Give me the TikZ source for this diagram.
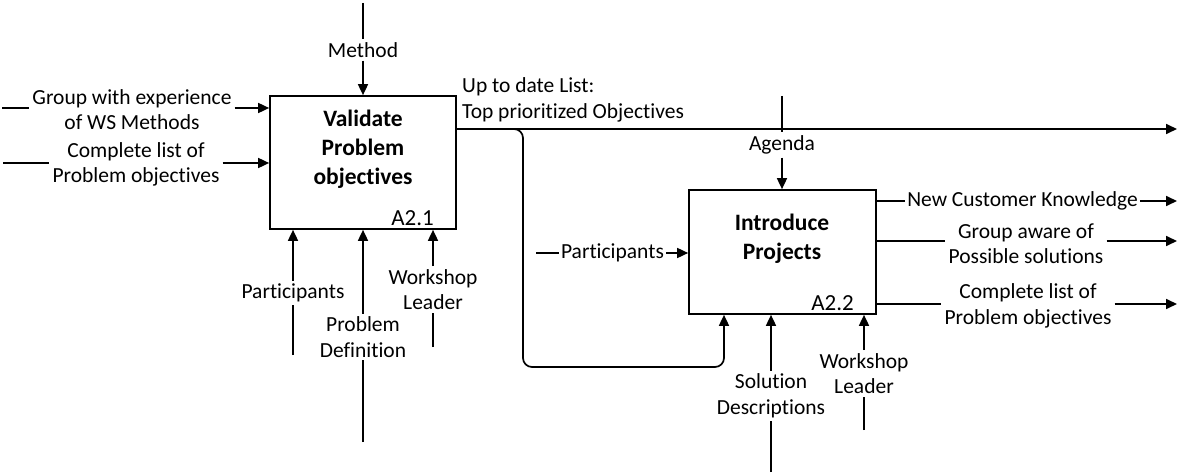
\documentclass[tikz,border=0pt]{standalone}
\usepackage{fontspec}
\setmainfont{Carlito}[Ligatures=NoCommon]
\usetikzlibrary{arrows.meta}
\begin{document}
\begin{tikzpicture}[x=1pt,y=-1pt,
  ln/.style={line width=1.7pt},
  arr/.style={ln,-{Triangle[length=11pt,width=10pt]}},
  box/.style={draw,line width=1.7pt,inner sep=0pt},
  lbl/.style={font=\fontsize{21.5}{25.5}\selectfont,align=center,inner sep=3pt},
  ttl/.style={font=\bfseries\fontsize{23.5}{29}\selectfont,align=center,inner sep=0pt},
  aid/.style={font=\fontsize{23}{28}\selectfont,inner sep=0pt,anchor=east}]
\useasboundingbox (0,0) rectangle (1179,473);

% activity boxes
\node[box,minimum width=186pt,minimum height=133pt] (b1) at (363,162.5) {};
\node[box,minimum width=187pt,minimum height=124pt] (b2) at (782.5,252) {};
\node[ttl] (t1) at (363,149) {Validate\\Problem\\objectives};
\node[aid] (id1) at (434,218) {A2.1};
\node[ttl] (t2) at (782,238.5) {Introduce\\Projects};
\node[aid] (id2) at (854,303) {A2.2};

% A2.1: control from above
\coordinate (m0) at (363,3);
\node[lbl] (mlab) at (363,50) {Method};
\draw[ln] (m0) -- (mlab.north);
\draw[arr] (mlab.south) -- (mlab |- b1.north);

% A2.1: inputs
\coordinate (g0) at (2,108);
\node[lbl] (glab) at (132,109.5) {Group with experience\\of WS Methods};
\draw[ln] (g0) -- (g0 -| glab.west);
\draw[arr] (g0 -| glab.east) -- (g0 -| b1.west);

\coordinate (c0) at (3,163);
\node[lbl] (clab) at (136,164.5) {Complete list of\\Problem objectives};
\draw[ln] (c0) -- (c0 -| clab.west);
\draw[arr] (c0 -| clab.east) -- (c0 -| b1.west);

% A2.1: mechanisms from below
\coordinate (pa0) at (293,355);
\node[lbl] (palab) at (293,293) {Participants};
\draw[ln] (pa0) -- (palab.south);
\draw[arr] (palab.north) -- (palab |- b1.south);

\coordinate (pd0) at (363,442);
\node[lbl] (pdlab) at (363,337) {Problem\\Definition};
\draw[ln] (pd0) -- (pdlab.south);
\draw[arr] (pdlab.north) -- (pdlab |- b1.south);

\coordinate (w0) at (433,347);
\node[lbl] (wlab) at (433,289.5) {Workshop\\Leader};
\draw[ln] (w0) -- (wlab.south);
\draw[arr] (wlab.north) -- (wlab |- b1.south);

% A2.1 output and its branch into A2.2
\coordinate (u1) at (1177,129);
\node[lbl,anchor=west,align=left] (ulab) at (459,100) {Up to date List:\\Top prioritized Objectives};
\draw[arr] (u1 -| b1.east) -- (u1);
\coordinate (lp) at (523,367);
\coordinate (lp2) at (724,367);
\draw[arr,rounded corners=9pt] (u1 -| b1.east) -| (lp) -- (lp2) -- (lp2 |- b2.south);

% A2.2: control from above
\coordinate (a0) at (782,96);
\node[lbl] (alab) at (782,145) {Agenda};
\draw[ln] (a0) -- (alab.north);
\draw[arr] (alab.south) -- (alab |- b2.north);

% A2.2: input
\coordinate (p0) at (536,253);
\node[lbl,inner sep=2pt] (plab) at (612.5,253) {Participants};
\draw[ln] (p0) -- (plab.west);
\draw[arr] (plab.east) -- (plab -| b2.west);

% A2.2: mechanisms from below
\coordinate (s0) at (771,472);
\node[lbl] (slab) at (771,396) {Solution\\Descriptions};
\draw[ln] (s0) -- (slab.south);
\draw[arr] (slab.north) -- (slab |- b2.south);

\coordinate (w20) at (864,430);
\node[lbl] (w2lab) at (864,373.5) {Workshop\\Leader};
\draw[ln] (w20) -- (w2lab.south);
\draw[arr] (w2lab.north) -- (w2lab |- b2.south);

% A2.2: outputs
\coordinate (o1) at (1177,201);
\node[lbl,inner sep=2pt] (o1lab) at (1022.5,201) {New Customer Knowledge};
\draw[ln] (o1 -| b2.east) -- (o1lab.west);
\draw[arr] (o1lab.east) -- (o1);

\coordinate (o2) at (1177,241);
\node[lbl] (o2lab) at (1026,243.5) {Group aware of\\Possible solutions};
\draw[ln] (o2 -| b2.east) -- (o2 -| o2lab.west);
\draw[arr] (o2 -| o2lab.east) -- (o2);

\coordinate (o3) at (1177,304);
\node[lbl] (o3lab) at (1028,306) {Complete list of\\Problem objectives};
\draw[ln] (o3 -| b2.east) -- (o3 -| o3lab.west);
\draw[arr] (o3 -| o3lab.east) -- (o3);
\end{tikzpicture}
\end{document}
